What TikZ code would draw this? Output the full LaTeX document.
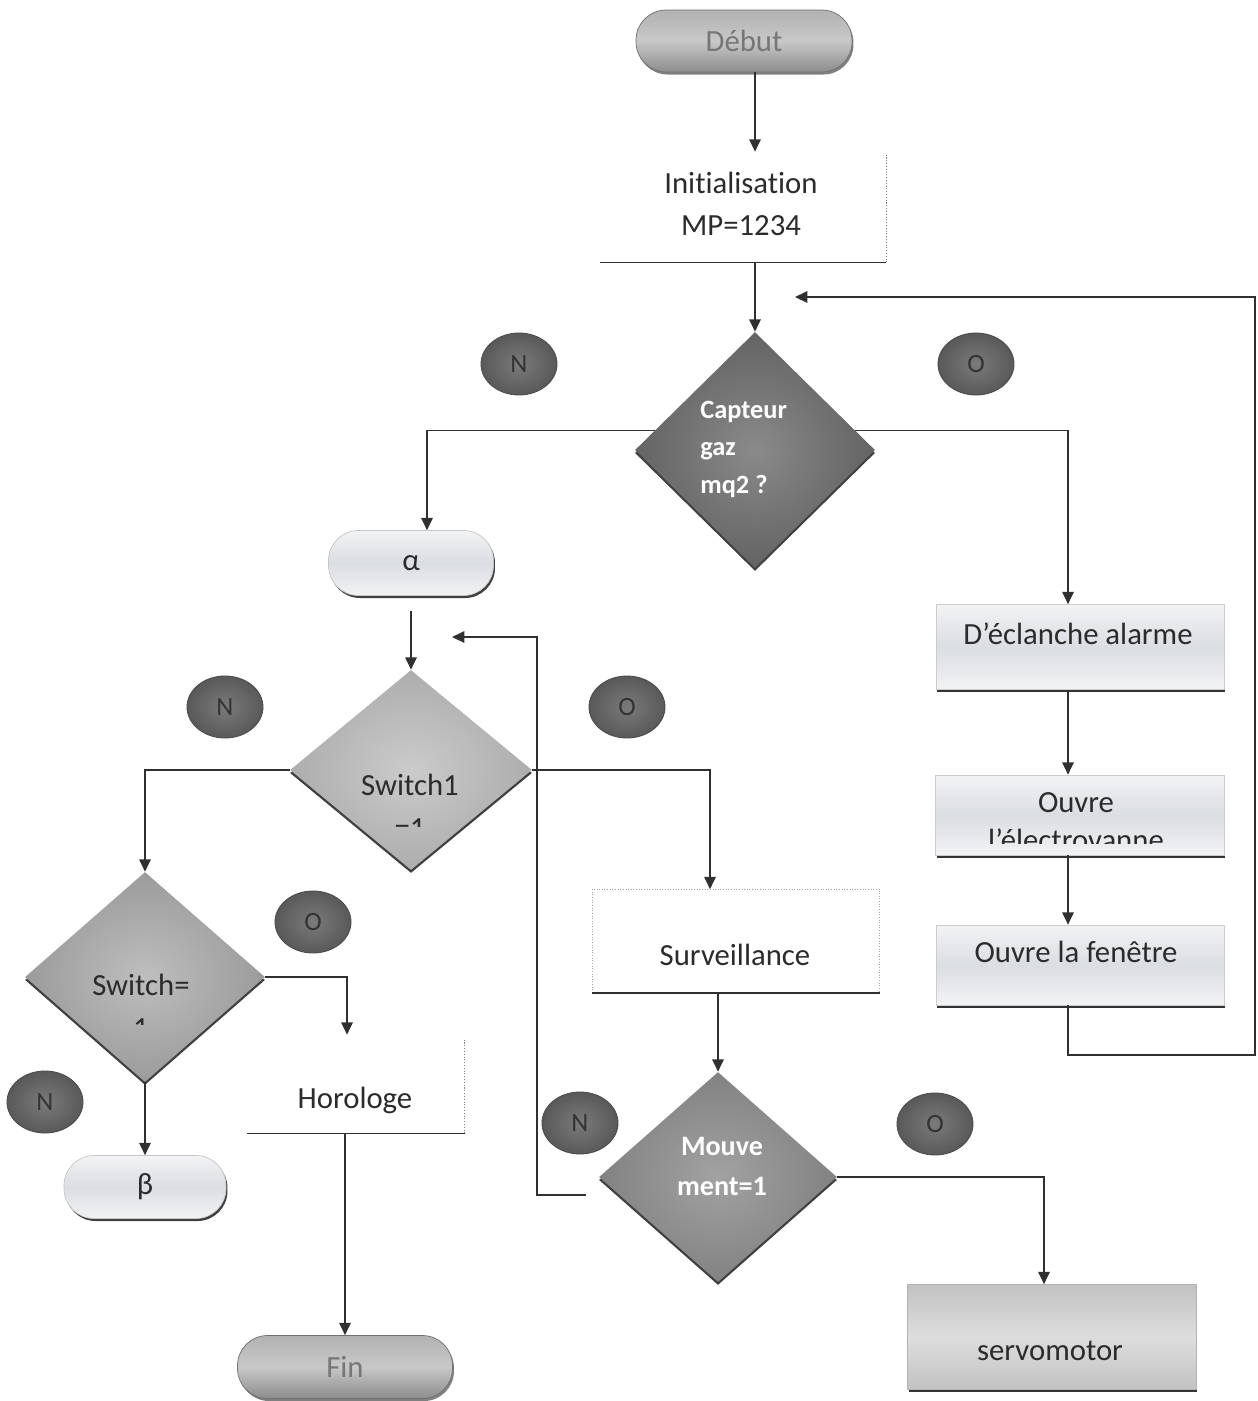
\documentclass[tikz,border=0pt]{standalone}
\usepackage{fontspec}
\setmainfont{Carlito}[Ligatures=NoCommon]
\usetikzlibrary{shapes.geometric,arrows.meta,shadows}

\definecolor{ink}{HTML}{2B2B2B}
\definecolor{wirec}{HTML}{303030}
\definecolor{termA}{HTML}{B2B2B2}
\definecolor{termB}{HTML}{C8C8C8}
\definecolor{termC}{HTML}{8C8C8C}
\definecolor{termText}{HTML}{767676}
\definecolor{paleA}{HTML}{F2F3F5}
\definecolor{paleB}{HTML}{DADDE2}
\definecolor{capIn}{HTML}{8A8A8A}
\definecolor{capOut}{HTML}{636363}
\definecolor{swaIn}{HTML}{CBCBCB}
\definecolor{swaOut}{HTML}{ADADAD}
\definecolor{swbIn}{HTML}{BEBEBE}
\definecolor{swbOut}{HTML}{9B9B9B}
\definecolor{movIn}{HTML}{A2A2A2}
\definecolor{movOut}{HTML}{828282}
\definecolor{dotIn}{HTML}{7A7A7A}
\definecolor{dotOut}{HTML}{595959}
\definecolor{servoA}{HTML}{C2C2C2}
\definecolor{servoB}{HTML}{DDDDDD}

\tikzset{
  base/.style={font=\fontsize{17.5}{23}\selectfont, text=ink},
  wire/.style={draw=wirec, line width=0.9pt},
  arr/.style={wire, -{Triangle[length=7pt,width=6.5pt]}},
  capsule/.style={rectangle, rounded corners=0.6cm, inner sep=0pt},
  terminal/.style={base, capsule, top color=termA, bottom color=termC, middle color=termB,
    draw=termC!80!black, line width=0.4pt, text=termText,
    drop shadow={shadow xshift=0.03cm, shadow yshift=-0.05cm, fill=black!55, opacity=0.9}},
  pale/.style={top color=paleA, bottom color=paleA, middle color=paleB},
  softbox/.style={rectangle, inner sep=0pt, pale, draw=gray!40, line width=0.4pt,
    drop shadow={shadow xshift=0.02cm, shadow yshift=-0.05cm, fill=black!80, opacity=1}},
  decision/.style={diamond, inner sep=0pt, draw=none,
    drop shadow={shadow xshift=0cm, shadow yshift=-0.06cm, fill=black!75, opacity=1}},
  yesno/.style={ellipse, minimum width=1.52cm, minimum height=1.24cm, inner sep=0pt,
    inner color=dotIn, outer color=dotOut, draw=black!70, line width=0.5pt,
    font=\fontsize{15}{18}\selectfont, text=black!80},
  label/.style={base, inner sep=0pt, anchor=base},
  whitetext/.style={font=\bfseries\fontsize{15}{18}\selectfont, text=white, inner sep=0pt, anchor=base west},
  movtext/.style={font=\bfseries\fontsize{16}{19}\selectfont, text=white, inner sep=0pt, anchor=base},
  openbox/.style={rectangle, inner sep=0pt, draw=none},
}

\begin{document}
\begin{tikzpicture}[x=0.02cm, y=-0.02cm]
\useasboundingbox[fill=white] (0,0) rectangle (1258,1401);

% ---------- start and initialisation ----------
\node[terminal, minimum width=4.32cm, minimum height=1.24cm] (debut) at (744,41) {Début};

\node[openbox, minimum width=5.72cm, minimum height=2.2cm] (init) at (743,207) {};
\node[base, align=center, font=\fontsize{17.5}{23.5}\selectfont] (initT) at (741,204) {Initialisation\\MP=1234};
\draw[densely dotted, gray, line width=0.6pt] ([yshift=-0.06cm]init.north east) -- (init.south east);
\draw[wire] (init.south west) -- (init.south east);

% ---------- gas sensor test ----------
\node[decision, minimum width=4.8cm, minimum height=4.72cm, inner color=capIn, outer color=capOut] (cap) at (755,450) {};
\node[whitetext] (capT1) at (700,418) {Capteur};
\node[whitetext] (capT2) at (700,455) {gaz};
\node[whitetext] (capT3) at (700,493) {mq2 ?};
\node[yesno] (n1) at (519,364) {N};
\node[yesno] (o1) at (976,364) {O};

% ---------- alarm branch ----------
\node[softbox, minimum width=5.76cm, minimum height=1.7cm] (alarm) at (1080,647) {};
\node[label] (alarmT) at (1078,644) {D’éclanche alarme};
\node[softbox, minimum width=5.78cm, minimum height=1.6cm] (elec) at (1080,815) {};
\node[label] (elecT1) at (1076,812) {Ouvre};
\begin{scope}
  \clip (930,770) rectangle (1230,843);
  \node[label] (elecT2) at (1076,850) {l’électrovanne};
\end{scope}
\node[softbox, minimum width=5.76cm, minimum height=1.6cm] (fen) at (1080,965) {};
\node[label] (fenT) at (1076,962) {Ouvre la fenêtre};

% ---------- alpha and switch tests ----------
\node[capsule, base, pale, draw=gray!45, line width=0.4pt, minimum width=3.3cm, minimum height=1.3cm,
  drop shadow={shadow xshift=0.03cm, shadow yshift=-0.05cm, fill=black!75, opacity=1}] (alpha) at (411,563) {α};

\node[decision, minimum width=4.84cm, minimum height=4.0cm, inner color=swaIn, outer color=swaOut] (sw1) at (411,770) {};
\node[label] (sw1T) at (410,795) {Switch1};
\begin{scope}
  \clip (300,700) rectangle (520,826);
  \node[label] (sw1V) at (410,838) {=1};
\end{scope}
\node[yesno] (n2) at (225,707) {N};
\node[yesno] (o2) at (627,707) {O};

\node[decision, minimum width=4.8cm, minimum height=4.2cm, inner color=swbIn, outer color=swbOut] (sw) at (145,977) {};
\node[label] (swT) at (141,995) {Switch=};
\begin{scope}
  \clip (40,940) rectangle (250,1024);
  \node[label] (swV) at (141,1038) {1};
\end{scope}
\node[yesno] (o3) at (313,922) {O};
\node[yesno] (n3) at (45,1102) {N};

\node[capsule, base, pale, draw=gray!45, line width=0.4pt, minimum width=3.24cm, minimum height=1.26cm,
  drop shadow={shadow xshift=0.03cm, shadow yshift=-0.05cm, fill=black!75, opacity=1}] (beta) at (145,1187) {β};

\node[openbox, minimum width=4.34cm, minimum height=1.96cm] (horo) at (356,1084) {};
\node[label] (horoT) at (355,1108) {Horologe};
\draw[densely dotted, gray, line width=0.6pt] ([yshift=-0.1cm]horo.north east) -- (horo.south east);
\draw[wire] (horo.south west) -- (horo.south east);

\node[terminal, minimum width=4.3cm, minimum height=1.26cm] (fin) at (345,1367) {Fin};

% ---------- surveillance and movement ----------
\node[openbox, minimum width=5.74cm, minimum height=2.06cm] (surv) at (736,941) {};
\draw[densely dotted, gray!70, line width=0.5pt] (surv.south west) -- (surv.north west) -- (surv.north east) -- (surv.south east);
\draw[wire, line width=1.2pt] (surv.south west) -- (surv.south east);
\node[label] (survT) at (735,965) {Surveillance};

\node[decision, minimum width=4.76cm, minimum height=4.2cm, inner color=movIn, outer color=movOut] (mouv) at (718,1177) {};
\node[movtext] (mouvT1) at (722,1155) {Mouve};
\node[movtext] (mouvT2) at (722,1195) {ment=1};
\node[yesno] (n4) at (580,1123) {N};
\node[yesno] (o4) at (935,1124) {O};

\node[rectangle, inner sep=0pt, top color=servoA, bottom color=servoA, middle color=servoB,
  draw=gray!60, line width=0.4pt, minimum width=5.78cm, minimum height=2.1cm,
  drop shadow={shadow xshift=0.02cm, shadow yshift=-0.05cm, fill=black!80, opacity=1}] (servo) at (1052,1337) {};
\node[label] (servoT) at (1050,1360) {servomotor};

% ---------- free ends of the loop-back lines ----------
\coordinate (retR) at (1255,1055);
\coordinate (retTop) at (1255,297);
\coordinate (retEnd) at (795,297);
\coordinate (loopCorner) at (537,637);
\coordinate (loopEnd) at (452,637);

% ---------- connectors ----------
\draw[arr] (debut.south -| cap.north) -- (init.north -| cap.north);
\draw[arr] (init.south -| cap.north) -- (cap.north);
\draw[arr] (cap.169) -| ([xshift=0.32cm]alpha.north);
\draw[arr] (cap.11) -| ([xshift=-0.24cm]alarm.north);
\draw[arr] ([xshift=-0.24cm]alarm.south) -- ([xshift=-0.24cm]elec.north);
\draw[arr] ([xshift=-0.24cm]elec.south) -- ([xshift=-0.24cm]fen.north);
\draw[arr] ([xshift=-0.24cm]fen.south) |- (retR) -- (retTop) -- (retEnd);

\draw[arr] ([yshift=-0.3cm]alpha.south) -- (sw1.north);
\draw[arr] (sw1.west) -| (sw.north);
\draw[arr] (sw1.east) -| ([xshift=-0.52cm]surv.north);
\draw[arr] (sw.east) -| ([xshift=-0.18cm]horo.north);
\draw[arr] (sw.south) -- (beta.north);
\draw[arr] (horo.south -| fin.north) -- (fin.north);

\draw[arr] (surv.south -| mouv.north) -- (mouv.north);
\draw[arr] (mouv.east) -| ([xshift=-0.16cm]servo.north);
\draw[arr] ([xshift=-0.26cm,yshift=-0.36cm]mouv.west) -| (loopCorner) -- (loopEnd);
\end{tikzpicture}
\end{document}
